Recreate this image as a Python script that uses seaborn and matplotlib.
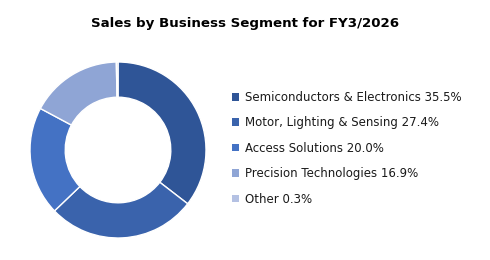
import matplotlib
matplotlib.use("Agg")
import matplotlib.pyplot as plt
import seaborn as sns
from matplotlib.patches import Patch

sns.set_theme(style="white")
plt.rcParams['font.family'] = ['DejaVu Sans']

categories = ["Semiconductors & Electronics", "Motor, Lighting & Sensing",
              "Access Solutions", "Precision Technologies", "Other"]
values = [35.5, 27.4, 20.0, 16.9, 0.3]
colors = ["#2F5597", "#3A63AC", "#4472C4", "#8FA5D5", "#B4C1E3"]

fig = plt.figure(figsize=(4.9, 2.6), dpi=100)
ax = fig.add_axes([30/490, 22/260, 176/490, 176/260])
ax.pie(values, colors=colors, startangle=90, counterclock=False,
       radius=1.0, wedgeprops=dict(width=0.4, edgecolor="white", linewidth=1.0))
ax.set_xlim(-1, 1)
ax.set_ylim(-1, 1)
ax.set_aspect("equal")
ax.axis("off")

fig.text(245/490, 1 - 24/260, "Sales by Business Segment for FY3/2026",
         ha="center", va="center", fontsize=9.6, fontweight="bold", color="#000000")

handles = [Patch(facecolor=c, edgecolor="none") for c in colors]
labels = [f"{c} {v:.1f}%" for c, v in zip(categories, values)]
fig.legend(handles, labels, loc="upper left", bbox_to_anchor=(232/490, 1 - 91/260),
           frameon=False, fontsize=8.5, handlelength=0.6, handleheight=0.6,
           handletextpad=0.5, labelspacing=1.05, borderaxespad=0, borderpad=0,
           labelcolor="#1a1a1a")

fig.savefig("out.png", dpi=100)
